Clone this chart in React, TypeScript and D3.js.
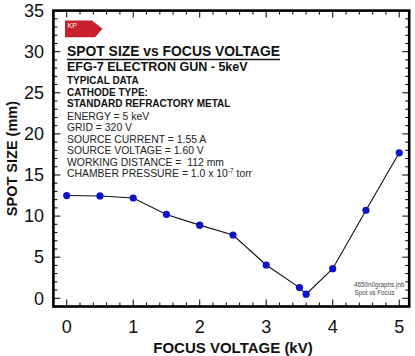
import React from "react";
import * as d3 from "d3";

const focusVoltage = [0, 0.5, 1, 1.5, 2, 2.5, 3, 3.5, 3.6, 4, 4.5, 5];
const spotSize = [12.5, 12.45, 12.2, 10.2, 8.9, 7.7, 4.05, 1.3, 0.5, 3.6, 10.7, 17.7];
const xTickLabels = [0, 1, 2, 3, 4, 5];
const yTickLabels = [0, 5, 10, 15, 20, 25, 30, 35];
const boldLines = [
  { text: "EFG-7 ELECTRON GUN - 5keV", size: 12.5 },
  { text: "TYPICAL DATA", size: 10 },
  { text: "CATHODE TYPE:", size: 10 },
  { text: "STANDARD REFRACTORY METAL", size: 10 },
];
const infoLines = [
  "ENERGY = 5 keV",
  "GRID = 320 V",
  "SOURCE CURRENT = 1.55 A",
  "SOURCE VOLTAGE = 1.60 V",
  "WORKING DISTANCE =\u00A0\u00A0112 mm",
];

export default function App() {
  const W = 415, H = 356;
  const x = d3.scaleLinear().domain([-0.2, 5.15]).range([53.4, 409.2]);
  const y = d3.scaleLinear().domain([-1, 35]).range([306.5, 10.6]);
  const [x0, x1] = x.range();
  const [yb, yt] = y.range();
  const font = "'Liberation Sans', Arial, sans-serif";

  const xMinor = d3.range(0, 26).map((i) => i * 0.2);
  const yMinor = d3.range(0, 35).map((i) => i);

  const line = d3
    .line<number>()
    .x((_, i) => x(focusVoltage[i]))
    .y((d) => y(d));

  const boldBaselines = [70.7, 84.4, 95.8, 107.3];
  const infoBase = 120;
  const infoStep = 11.45;

  return (
    <svg
      width={W}
      height={H}
      style={{ position: "absolute", left: 0, top: 0, background: "#fff" }}
      fontFamily={font}
    >
      <rect x={0} y={0} width={W} height={H} fill="#fff" />
      {xMinor.map((v, i) => {
        const major = Math.abs(v - Math.round(v)) < 1e-6;
        const len = major ? 7 : 4;
        const px = x(v);
        return (
          <g key={"xt" + i} stroke="#000" strokeWidth={1}>
            <line x1={px} x2={px} y1={yb} y2={yb - len} />
            <line x1={px} x2={px} y1={yt} y2={yt + len} />
          </g>
        );
      })}
      {yMinor.map((v, i) => {
        const major = v % 5 === 0;
        const len = major ? 7 : 4;
        const py = y(v);
        return (
          <g key={"yt" + i} stroke="#000" strokeWidth={1}>
            <line x1={x0} x2={x0 + len} y1={py} y2={py} />
            <line x1={x1} x2={x1 - len} y1={py} y2={py} />
          </g>
        );
      })}
      <rect
        x={x0}
        y={yt}
        width={x1 - x0}
        height={yb - yt}
        fill="none"
        stroke="#000"
        strokeWidth={2.6}
      />
      {xTickLabels.map((v) => (
        <text key={"xl" + v} x={x(v)} y={333} fontSize={18} textAnchor="middle" fill="#111">
          {v}
        </text>
      ))}
      {yTickLabels.map((v) => (
        <text key={"yl" + v} x={44} y={y(v) + 6.3} fontSize={18} textAnchor="end" fill="#111">
          {v}
        </text>
      ))}
      <text x={233} y={352.5} fontSize={15} fontWeight="bold" textAnchor="middle" fill="#111">
        FOCUS VOLTAGE (kV)
      </text>
      <text
        transform={`translate(16.5,${(yt + yb) / 2}) rotate(-90)`}
        fontSize={14.5}
        fontWeight="bold"
        textAnchor="middle"
        fill="#111"
      >
        SPOT SIZE (mm)
      </text>
      <path d="M65,20.5 L92,20.5 L102.5,28.8 L95,37.2 L65,37.2 Z" fill="#c8202f" />
      <text x={67.5} y={28} fontSize={7} fill="#fff">
        KP
      </text>
      <text x={67} y={56} fontSize={14.4} fontWeight="bold" fill="#111" textLength={213} lengthAdjust="spacingAndGlyphs">
        SPOT SIZE vs FOCUS VOLTAGE
      </text>
      <line x1={67} x2={280} y1={59.5} y2={59.5} stroke="#111" strokeWidth={1.4} />
      {boldLines.map((l, i) => (
        <text key={"bl" + i} x={67} y={boldBaselines[i]} fontSize={l.size} fontWeight="bold" fill="#111">
          {l.text}
        </text>
      ))}
      {infoLines.map((t, i) => (
        <text key={"il" + i} x={67} y={infoBase + i * infoStep} fontSize={10.4} fill="#222">
          {t}
        </text>
      ))}
      <text x={67} y={infoBase + 5 * infoStep} fontSize={10.4} fill="#222">
        CHAMBER PRESSURE = 1.0 x 10
        <tspan fontSize={6.5} dy={-4.5}>-7</tspan>
        <tspan dy={4.5}> torr</tspan>
      </text>
      <text x={354} y={287} fontSize={6.3} fill="#444">4650n0graphs.jnb</text>
      <text x={354.5} y={294.5} fontSize={6.3} fill="#444">Spot vs Focus</text>
      <path d={line(spotSize) || ""} fill="none" stroke="#111" strokeWidth={1.1} />
      {spotSize.map((v, i) => (
        <circle key={"pt" + i} cx={x(focusVoltage[i])} cy={y(v)} r={3.6} fill="#0a14c8" />
      ))}
    </svg>
  );
}
